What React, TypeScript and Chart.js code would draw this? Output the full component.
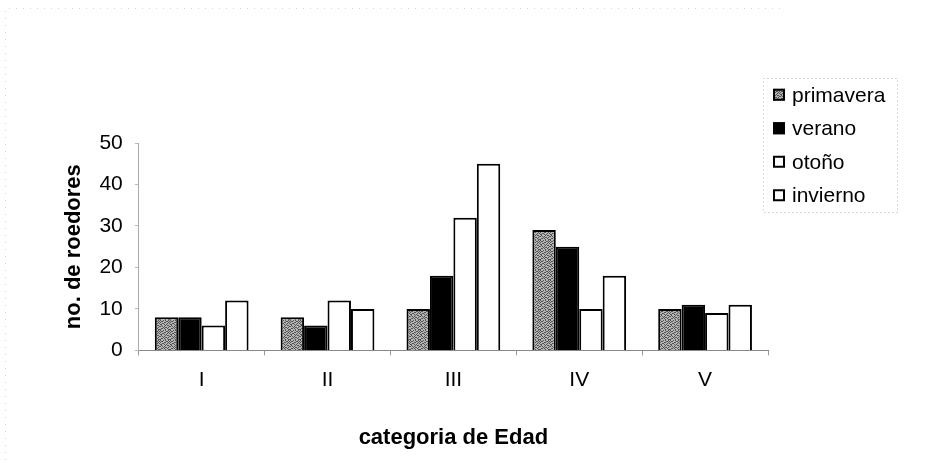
import React, { useEffect, useRef } from "react";
import { Chart, registerables } from "chart.js";

Chart.register(...registerables);

const categories = ["I", "II", "III", "IV", "V"];
const seriesNames = ["primavera", "verano", "otoño", "invierno"];
const primavera = [8, 8, 10, 29, 10];
const verano = [8, 6, 18, 25, 11];
const otono = [6, 12, 32, 10, 9];
const invierno = [12, 10, 45, 18, 11];
const yMin = 0;
const yMax = 50;
const yStep = 10;
const yTitle = "no. de roedores";
const xTitle = "categoria de Edad";

const FONT = "'Liberation Sans', Arial, Helvetica, sans-serif";

function makeStipple(): CanvasPattern | string {
  const c = document.createElement("canvas");
  const bits = [
    "1001010010",
    "0110001101",
    "1000110010",
    "0011000101",
    "1100101000",
    "0100010110",
    "1010100001",
    "0001011010",
    "0110100100",
    "1000010011",
  ];
  c.width = bits[0].length;
  c.height = bits.length;
  const ctx = c.getContext("2d");
  if (!ctx) return "#8c8c8c";
  for (let y = 0; y < bits.length; y++) {
    for (let x = 0; x < bits[y].length; x++) {
      ctx.fillStyle = bits[y][x] === "1" ? "#555555" : "#b4b4b4";
      ctx.fillRect(x, y, 1, 1);
    }
  }
  const p = ctx.createPattern(c, "repeat");
  return p || "#8c8c8c";
}

const legendPlugin = {
  id: "customLegend",
  afterDraw(chart: any) {
    const ctx = chart.ctx as CanvasRenderingContext2D;
    const area = chart.chartArea;
    const left = area.right - 5;
    const top = 78;
    const w = 134;
    const rowH = 33.5;
    const h = rowH * chart.data.datasets.length;
    ctx.save();
    ctx.strokeStyle = "#b0b0b0";
    ctx.lineWidth = 1;
    ctx.setLineDash([1, 3]);
    ctx.strokeRect(left + 0.5, top + 0.5, w, h);
    ctx.setLineDash([]);
    chart.data.datasets.forEach((ds: any, i: number) => {
      const cy = top + rowH * (i + 0.5);
      const bx = left + 10;
      const size = 12;
      ctx.fillStyle = ds.backgroundColor;
      ctx.fillRect(bx, cy - size / 2, size, size);
      ctx.strokeStyle = "#000";
      ctx.lineWidth = 2;
      ctx.strokeRect(bx + 1, cy - size / 2 + 1, size - 2, size - 2);
      ctx.fillStyle = "#000";
      ctx.font = `21px ${FONT}`;
      ctx.textBaseline = "middle";
      ctx.textAlign = "left";
      ctx.fillText(ds.label, bx + size + 7, cy + 1);
    });
    ctx.restore();
  },
};

const framePlugin = {
  id: "frame",
  beforeDraw(chart: any) {
    const ctx = chart.ctx as CanvasRenderingContext2D;
    ctx.save();
    ctx.strokeStyle = "#d4d4d4";
    ctx.lineWidth = 1;
    ctx.setLineDash([1, 6]);
    ctx.beginPath();
    ctx.moveTo(5.5, 460);
    ctx.lineTo(5.5, 8.5);
    ctx.lineTo(780, 8.5);
    ctx.stroke();
    ctx.restore();
  },
};

export default function App() {
  const ref = useRef<HTMLCanvasElement | null>(null);
  useEffect(() => {
    if (!ref.current) return;
    const stipple = makeStipple();
    const chart = new Chart(ref.current, {
      type: "bar",
      data: {
        labels: categories,
        datasets: [
          { label: seriesNames[0], data: primavera, backgroundColor: stipple as any },
          { label: seriesNames[1], data: verano, backgroundColor: "#000000" },
          { label: seriesNames[2], data: otono, backgroundColor: "#ffffff" },
          { label: seriesNames[3], data: invierno, backgroundColor: "#ffffff" },
        ].map((d) => ({
          ...d,
          borderColor: "#000000",
          borderWidth: 2,
          categoryPercentage: 0.745,
          barPercentage: 1.0,
        })),
      },
      options: {
        animation: false,
        responsive: false,
        layout: { padding: { left: 61, right: 159, top: 143, bottom: 12 } },
        plugins: {
          legend: { display: false },
          tooltip: { enabled: false },
        },
        scales: {
          x: {
            grid: {
              display: true,
              drawOnChartArea: false,
              drawTicks: true,
              tickLength: 5,
              color: "#999999",
            },
            border: { display: true, color: "#888888", dash: [3, 3] },
            ticks: { color: "#000", font: { family: FONT, size: 21 }, padding: 12 },
            title: {
              display: true,
              text: xTitle,
              color: "#000",
              font: { family: FONT, size: 22, weight: "bold" },
              padding: { top: 20, bottom: 0 },
            },
          },
          y: {
            min: yMin,
            max: yMax,
            grid: {
              display: true,
              drawOnChartArea: false,
              drawTicks: true,
              tickLength: 4,
              color: "#bbbbbb",
            },
            border: { display: true, color: "#aaaaaa", dash: [1, 3] },
            ticks: {
              stepSize: yStep,
              color: "#000",
              font: { family: FONT, size: 21 },
              padding: 12,
            },
            title: {
              display: true,
              text: yTitle,
              color: "#000",
              font: { family: FONT, size: 22, weight: "bold" },
              padding: { top: 0, bottom: 0 },
            },
          },
        },
      },
      plugins: [legendPlugin, framePlugin],
    });
    return () => chart.destroy();
  }, []);
  return (
    <div style={{ position: "absolute", left: 0, top: 0, width: 927, height: 463, background: "#fff" }}>
      <canvas ref={ref} width={927} height={463} style={{ display: "block" }} />
    </div>
  );
}
